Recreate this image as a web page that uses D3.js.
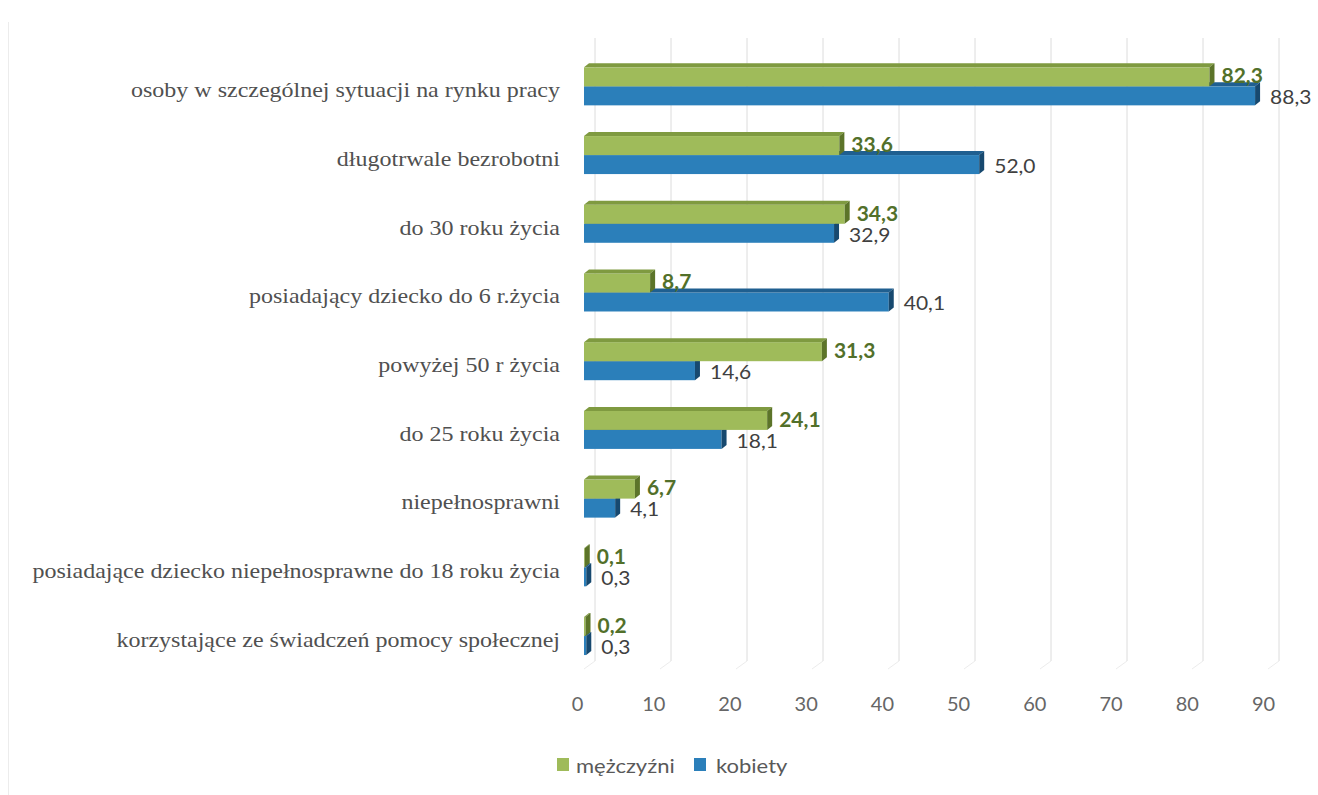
<!DOCTYPE html>
<html>
<head>
<meta charset="utf-8">
<script src="https://cdn.jsdelivr.net/npm/d3@7"></script>
<style>
  html, body { margin: 0; padding: 0; background: #ffffff; }
  svg { display: block; }
</style>
</head>
<body>
<script>
// ---- data ----
const categories = [
  "osoby w szczególnej sytuacji na rynku pracy",
  "długotrwale bezrobotni",
  "do 30 roku życia",
  "posiadający dziecko do 6 r.życia",
  "powyżej 50 r życia",
  "do 25 roku życia",
  "niepełnosprawni",
  "posiadające dziecko niepełnosprawne do 18 roku życia",
  "korzystające ze świadczeń pomocy społecznej"
];
const menValues   = [82.3, 33.6, 34.3, 8.7, 31.3, 24.1, 6.7, 0.1, 0.2];
const womenValues = [88.3, 52.0, 32.9, 40.1, 14.6, 18.1, 4.1, 0.3, 0.3];
const seriesNames = ["mężczyźni", "kobiety"];
const tickValues  = [0, 10, 20, 30, 40, 50, 60, 70, 80, 90];

// ---- styles ----
const W = 1318, H = 795;
const colors = {
  men:   { front: "#9fbb5a", top: "#7f9a40", side: "#5c7429", label: "#52702a" },
  women: { front: "#2b7fba", top: "#1f5f90", side: "#17496f", label: "#404040" }
};
const fmt = v => d3.format(".1f")(v).replace(".", ",");

const svg = d3.select("body").append("svg").attr("width", W).attr("height", H);
svg.append("rect").attr("width", W).attr("height", H).attr("fill", "#fff");

// faint chart border on left
svg.append("line").attr("x1", 8.5).attr("x2", 8.5).attr("y1", 22).attr("y2", H)
  .attr("stroke", "#ececec").attr("stroke-width", 1);

const x = d3.scaleLinear().domain([0, 90]).range([584, 1268]);
const xTick = d3.scaleLinear().domain([0, 90]).range([577, 1263]);
const y = d3.scaleBand().domain(categories).range([52, 670.4]);
const depthX = 11, depthY = 8;       // back wall offset
const bdx = 5, bdy = 4;              // bar 3D depth
const barH = 19;

// gridlines (back wall) + floor
const grid = svg.append("g");
grid.selectAll("line.g").data(tickValues).join("line")
  .attr("x1", d => x(d) + depthX).attr("x2", d => x(d) + depthX)
  .attr("y1", 38).attr("y2", 661)
  .attr("stroke", "#dcdcdc").attr("stroke-width", 1);
grid.selectAll("line.f").data(tickValues).join("line")
  .attr("x1", d => x(d) + depthX).attr("x2", d => x(d))
  .attr("y1", 661).attr("y2", 661 + depthY)
  .attr("stroke", "#ececec").attr("stroke-width", 1);

// bars
const rc = c => y(c) + y.bandwidth() / 2;
function drawBar(g, v, yTop, col) {
  const x0 = x(0), x1 = x(v);
  g.append("rect").attr("x", x0).attr("y", yTop).attr("width", Math.max(0, x1 - x0)).attr("height", barH)
    .attr("fill", col.front);
  g.append("polygon")
    .attr("points", [[x0, yTop], [x0 + bdx, yTop - bdy], [x1 + bdx, yTop - bdy], [x1, yTop]].map(p => p.join(",")).join(" "))
    .attr("fill", col.top);
  g.append("polygon")
    .attr("points", [[x1, yTop], [x1 + bdx, yTop - bdy], [x1 + bdx, yTop + barH - bdy], [x1, yTop + barH]].map(p => p.join(",")).join(" "))
    .attr("fill", col.side);
}
const bars = svg.append("g");
categories.forEach((c, i) => {
  const g = bars.append("g");
  drawBar(g, womenValues[i], rc(c), colors.women);
  drawBar(g, menValues[i], rc(c) - barH, colors.men);
});

// value labels
const vl = svg.append("g").style("font-family", "Lato, 'Open Sans', sans-serif").style("font-size", "20px");
categories.forEach((c, i) => {
  vl.append("text").attr("transform", `translate(${x(menValues[i]) + 12},${rc(c) - 11}) scale(1.05,1)`)
    .attr("dominant-baseline", "central").attr("fill", colors.men.label).attr("font-weight", "bold")
    .text(fmt(menValues[i]));
  vl.append("text").attr("transform", `translate(${x(womenValues[i]) + 15},${rc(c) + 10}) scale(1.05,1)`)
    .attr("dominant-baseline", "central").attr("fill", colors.women.label)
    .text(fmt(womenValues[i]));
});

// category labels
const catSX = 1.2;
const cl = svg.append("g").style("font-family", "'Liberation Serif', 'Times New Roman', serif").style("font-size", "20px");
categories.forEach(c => {
  cl.append("text").attr("transform", `translate(560,${rc(c) + 4}) scale(${catSX},1)`)
    .attr("text-anchor", "end").attr("dominant-baseline", "central").attr("fill", "#505050")
    .text(c);
});

// x axis tick labels
const axis = d3.axisBottom(xTick).tickValues(tickValues).tickSize(0).tickPadding(0).tickFormat(d3.format("d"));
const ax = svg.append("g").attr("transform", "translate(0,697)").call(axis);
ax.select(".domain").remove();
ax.selectAll("text").style("font-family", "Lato, 'Open Sans', sans-serif").style("font-size", "20px").attr("fill", "#666");

// legend
const legend = svg.append("g").style("font-family", "Lato, 'Open Sans', sans-serif").style("font-size", "20px");
const legItems = [
  { name: seriesNames[0], col: colors.men.front, sx: 557, tx: 576 },
  { name: seriesNames[1], col: colors.women.front, sx: 694, tx: 716 }
];
legItems.forEach(d => {
  legend.append("rect").attr("x", d.sx).attr("y", 758).attr("width", 12).attr("height", 13).attr("fill", d.col);
  legend.append("text").attr("transform", `translate(${d.tx},765) scale(1.1,1)`)
    .attr("dominant-baseline", "central").attr("fill", "#595959").text(d.name);
});
</script>
</body>
</html>
